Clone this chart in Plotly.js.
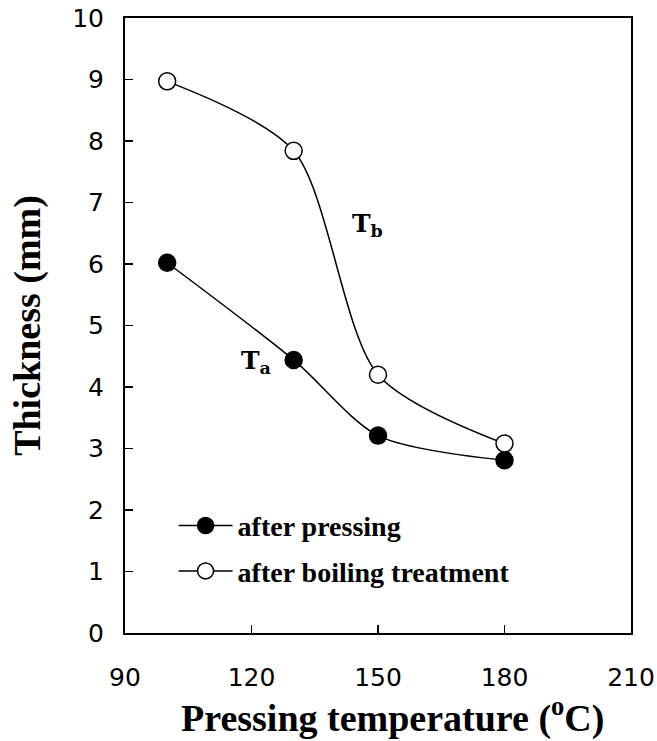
<!DOCTYPE html>
<html>
<head>
<meta charset="utf-8">
<script src="https://cdn.plot.ly/plotly-3.0.1.min.js"></script>
<style>html,body{margin:0;padding:0;background:#fff;}#chart{width:657px;height:741px;}</style>
</head>
<body>
<div id="chart"></div>
<script>
var temperature = [100, 130, 150, 180];
var afterPressing = [6.02, 4.44, 3.21, 2.81];
var afterBoiling = [8.97, 7.84, 4.20, 3.08];
var seriesNames = ['after pressing', 'after boiling treatment'];
var xTicks = [90, 120, 150, 180, 210];
var yTicks = [0, 1, 2, 3, 4, 5, 6, 7, 8, 9, 10];

var traces = [
  {
    x: temperature, y: afterPressing, name: seriesNames[0], legendgroup: 'a',
    type: 'scatter', mode: 'lines+markers',
    line: {color: '#000', width: 1.5, shape: 'spline', smoothing: 0.8},
    marker: {symbol: 'circle', size: 17, color: '#000', line: {color: '#000', width: 1.5}}
  },
  {
    x: temperature, y: afterBoiling, name: seriesNames[1], legendgroup: 'b',
    type: 'scatter', mode: 'lines+markers',
    line: {color: '#000', width: 1.5, shape: 'spline', smoothing: 0.8},
    marker: {symbol: 'circle', size: 17, color: '#fff', line: {color: '#000', width: 1.5}}
  }
];

var layout = {
  width: 657, height: 741,
  margin: {l: 125, r: 26, t: 18, b: 108},
  paper_bgcolor: '#fff', plot_bgcolor: '#fff',
  showlegend: true,
  legend: {
    x: 0.096, y: 0.215, xanchor: 'left', yanchor: 'top',
    bgcolor: 'rgba(0,0,0,0)',
    font: {family: 'Liberation Serif', size: 28, color: '#000', weight: 'bold'},
    tracegroupgap: 6, itemwidth: 54
  },
  xaxis: {
    range: [90, 210], tickvals: xTicks, ticktext: xTicks.map(String),
    ticks: 'inside', ticklen: 8, tickwidth: 1.5, tickcolor: '#000',
    showline: true, linecolor: '#000', linewidth: 2, mirror: true,
    showgrid: false, zeroline: false,
    ticklabelstandoff: 21,
    tickfont: {family: 'DejaVu Sans', size: 25, color: '#000'},
    title: {text: ''}
  },
  yaxis: {
    range: [0, 10], tickvals: yTicks, ticktext: yTicks.map(String),
    ticks: 'inside', ticklen: 8, tickwidth: 1.5, tickcolor: '#000',
    showline: true, linecolor: '#000', linewidth: 2, mirror: true,
    showgrid: false, zeroline: false,
    ticklabelstandoff: 14,
    tickfont: {family: 'DejaVu Sans', size: 25, color: '#000'},
    title: {text: 'Thickness (mm)', standoff: 20,
            font: {family: 'Liberation Serif', size: 38, color: '#000', weight: 'bold'}}
  },
  annotations: [
    {x: 0.528, y: 0, xref: 'paper', yref: 'paper', yanchor: 'top', yshift: -56,
     text: 'Pressing temperature (<sup>o</sup>C)', showarrow: false,
     font: {family: 'Liberation Serif', size: 38, color: '#000', weight: 'bold'}},
    {x: 121.1, y: 4.41, xref: 'x', yref: 'y', text: 'T<sub>a</sub>', showarrow: false,
     font: {family: 'DejaVu Serif', size: 25, color: '#000', weight: 'bold'}},
    {x: 147.4, y: 6.64, xref: 'x', yref: 'y', text: 'T<sub>b</sub>', showarrow: false,
     font: {family: 'DejaVu Serif', size: 25, color: '#000', weight: 'bold'}}
  ]
};

Plotly.newPlot('chart', traces, layout, {displayModeBar: false, staticPlot: true});
</script>
</body>
</html>
